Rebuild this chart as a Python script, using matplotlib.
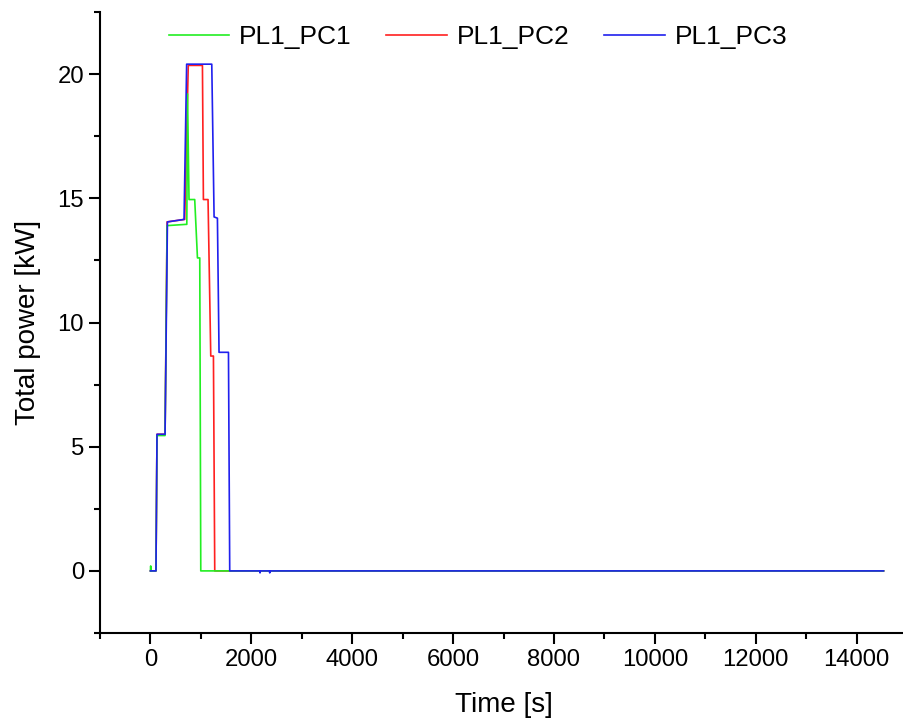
import matplotlib.pyplot as plt
from matplotlib.ticker import MultipleLocator

plt.rcParams['font.family'] = ['Liberation Sans', 'DejaVu Sans']

# PL1_PC1 (green)
t_pc1 = [0, 5, 10, 110, 130, 290, 330, 700, 721, 735, 765, 878, 932, 978, 998, 14535]
p_pc1 = [0, 0.2, 0, 0, 5.45, 5.45, 13.9, 13.95, 13.95, 19.2, 14.95, 14.95, 12.6, 12.6, 0, 0]

# PL1_PC2 (red)
t_pc2 = [0, 110, 130, 290, 330, 680, 750, 1031, 1050, 1142, 1196, 1249, 1275, 14535]
p_pc2 = [0, 0, 5.5, 5.5, 14.05, 14.15, 20.35, 20.35, 14.95, 14.95, 8.65, 8.65, 0, 0]

# PL1_PC3 (blue)
t_pc3 = [0, 110, 130, 290, 337, 666, 718, 1216, 1262, 1328, 1360, 1547, 1572,
         2168, 2173, 2178, 2360, 2365, 2370, 14535]
p_pc3 = [0, 0, 5.5, 5.5, 14.05, 14.15, 20.4, 20.4, 14.25, 14.2, 8.8, 8.8, 0,
         0, -0.08, 0, 0, -0.08, 0, 0]

fig = plt.figure(figsize=(9.04, 7.26), dpi=100)
ax = fig.add_axes([100 / 904, 93 / 726, 807 / 904, 621 / 726])

l2, = ax.plot(t_pc2, p_pc2, color='#ff2020', lw=1.2, label='PL1_PC2')
l1, = ax.plot(t_pc1, p_pc1, color='#22ee22', lw=1.2, label='PL1_PC1')
l3, = ax.plot(t_pc3, p_pc3, color='#2020ee', lw=1.2, label='PL1_PC3')

ax.set_xlim(-1000, 15000)
ax.set_ylim(-2.5, 22.5)
ax.xaxis.set_major_locator(MultipleLocator(2000))
ax.xaxis.set_minor_locator(MultipleLocator(1000))
ax.yaxis.set_major_locator(MultipleLocator(5))
ax.yaxis.set_minor_locator(MultipleLocator(2.5))

for s in ['top', 'right']:
    ax.spines[s].set_visible(False)
for s in ['left', 'bottom']:
    ax.spines[s].set_linewidth(1.5)

ax.tick_params(which='major', direction='out', length=8, width=1.5, labelsize=17.2)
ax.tick_params(which='minor', direction='out', length=4, width=1.5)

ax.set_xlabel('Time [s]', fontsize=20, labelpad=15)
ax.set_ylabel('Total power [kW]', fontsize=20, labelpad=12)

fig.legend(handles=[l1, l2, l3], loc='center left', bbox_to_anchor=(158 / 904, 1 - 37 / 726),
           ncol=3, frameon=False, fontsize=19, handlelength=2.3, columnspacing=1.3,
           handletextpad=0.38, borderaxespad=0, borderpad=0.4)

plt.savefig('out.png', dpi=100)
